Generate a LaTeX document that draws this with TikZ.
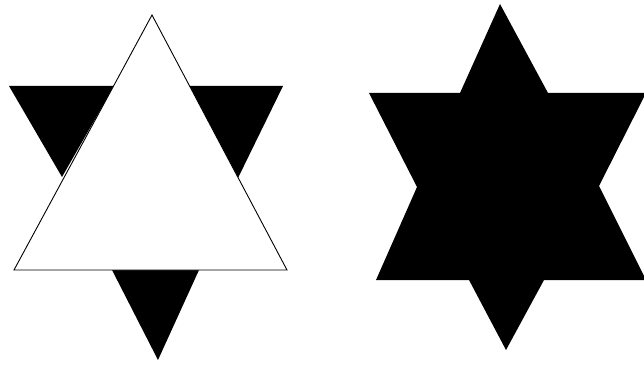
\documentclass[tikz,border=0pt]{standalone}
\begin{document}
\begin{tikzpicture}[x=1pt, y=-1pt,
    spike/.style={fill=black},
    base/.style={draw=black, fill=white, line width=0.9pt, line join=miter}]
  \useasboundingbox (0,0) rectangle (644,366);
  \clip (0,0) rectangle (644,366);
  % first step: triangle with three spikes added on the middle thirds
  \fill[spike] (9,86) -- (114,86) -- (62,177) -- cycle;
  \fill[spike] (189,86) -- (283,86) -- (238,178) -- cycle;
  \fill[spike] (112,270) -- (199,270) -- (158,360) -- cycle;
  \draw[base] (152,15) -- (287,270) -- (14,270) -- cycle;
  % result: the filled six-pointed star
  \fill[spike] (500,4) -- (548,93) -- (646,93) -- (599,186) -- (646,280)
    -- (544,280) -- (506,350) -- (469,280) -- (376,280) -- (417,187)
    -- (369,93) -- (460,93) -- cycle;
\end{tikzpicture}
\end{document}
